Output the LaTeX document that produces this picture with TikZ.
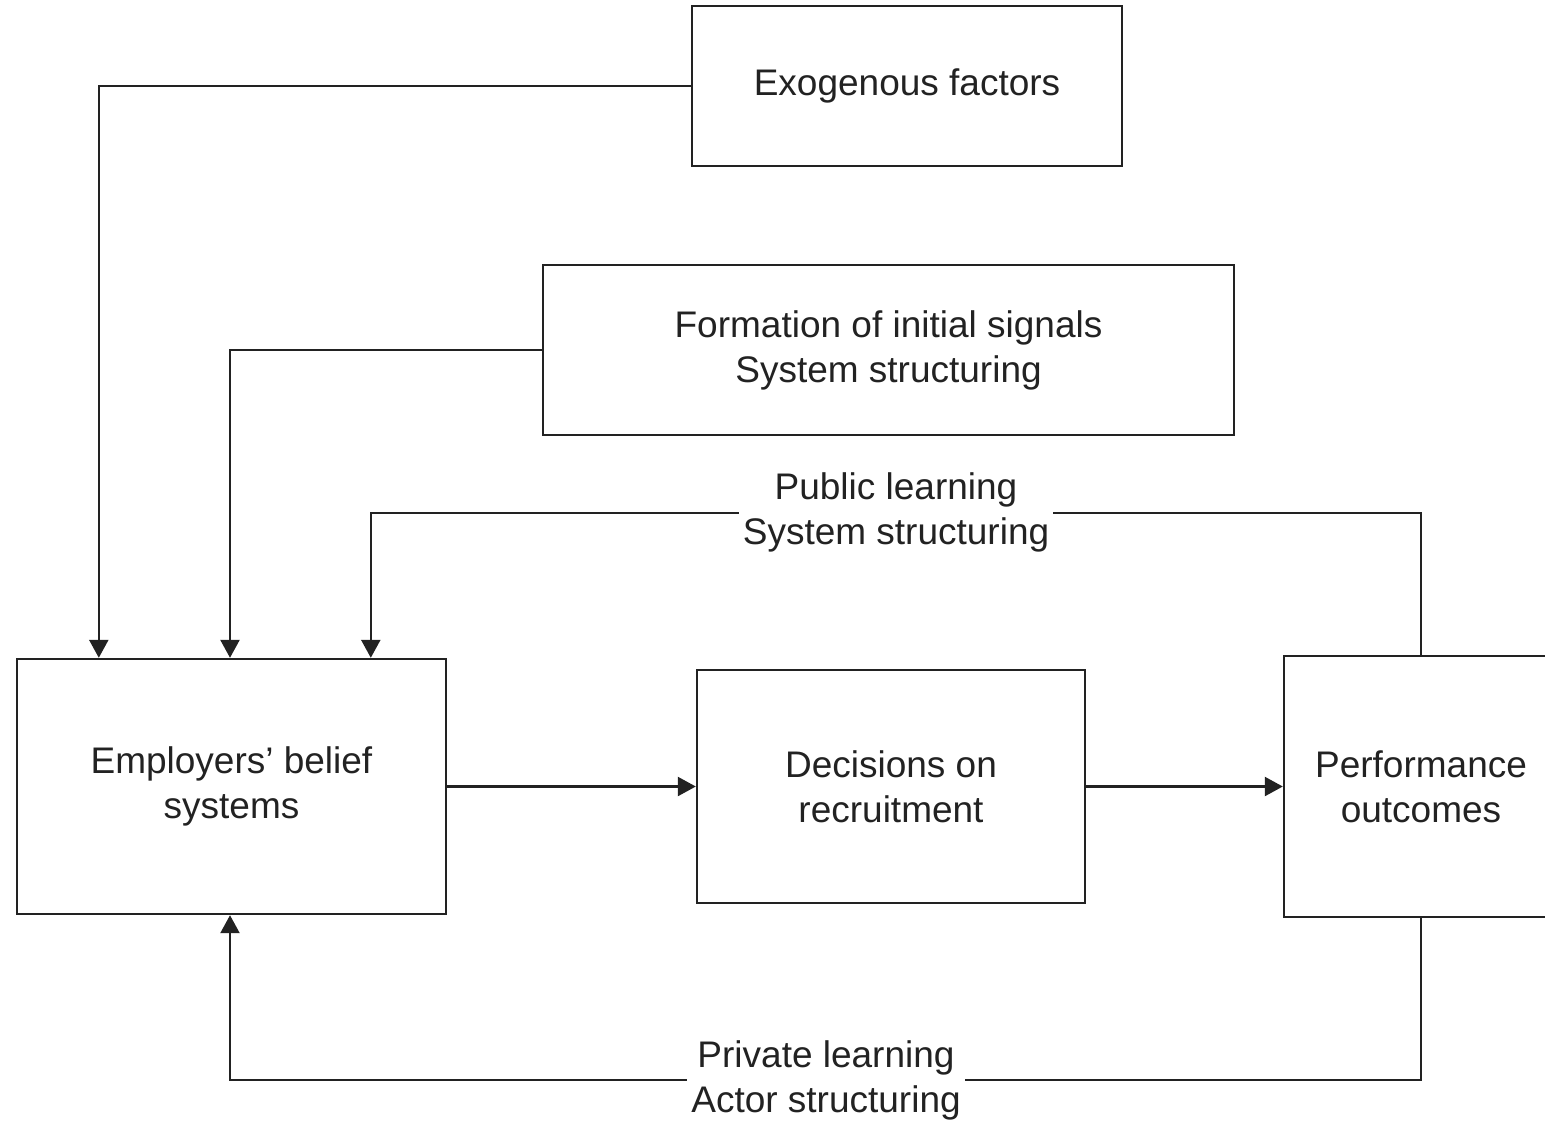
\documentclass[tikz,border=0pt]{standalone}
\usepackage{fontspec}
\setmainfont{Liberation Sans}
\usetikzlibrary{arrows.meta}
\definecolor{ink}{HTML}{222222}
\begin{document}
\begin{tikzpicture}[x=0.5pt,y=-0.5pt,
  every node/.style={font=\fontsize{18.5}{22.5}\selectfont, text=ink},
  box/.style={draw=ink, line width=1.2pt, inner sep=0pt, align=center},
  lbl/.style={fill=white, inner xsep=2pt, inner ysep=1pt, align=center},
  link/.style={draw=ink, line width=1.2pt},
  arr/.style={link, -{Triangle[length=9pt,width=9.5pt]}}]
  \useasboundingbox (0,0) rectangle (1545,1125);
  \clip (0,0) rectangle (1545,1125);

  % boxes
  \node[box, minimum width=215pt, minimum height=80pt] (exo) at (907,86) {Exogenous factors};
  \node[box, minimum width=345.5pt, minimum height=85pt] (form) at (888.5,350)
    {Formation of initial signals\\System structuring};
  \node[box, minimum width=214.5pt, minimum height=127.5pt] (emp) at (231.5,786.5)
    {Employers’ belief\\systems};
  \node[box, minimum width=194pt, minimum height=116.5pt] (dec) at (891,786.5)
    {Decisions on\\recruitment};
  \node[box, minimum width=137pt, minimum height=130.5pt] (perf) at (1421,786.5)
    {Performance\\outcomes};

  % feed-in arrows
  \draw[arr] (exo.west) -| ([xshift=41.5pt]emp.north west);
  \draw[arr] (form.west) -| ([xshift=-0.75pt]emp.north);
  \draw[arr] (perf.north) -- ++(0,-142) -| ([xshift=177.5pt]emp.north west);
  \draw[arr] (perf.south) -- ++(0,162) -| ([xshift=-0.75pt]emp.south);

  % main chain
  \draw[arr] (emp.east) -- (dec.west);
  \draw[arr] (dec.east) -- (perf.west);

  % loop labels
  \node[lbl] (pub) at (896,512) {Public learning\\System structuring};
  \node[lbl] (priv) at (826,1080) {Private learning\\Actor structuring};
\end{tikzpicture}
\end{document}
